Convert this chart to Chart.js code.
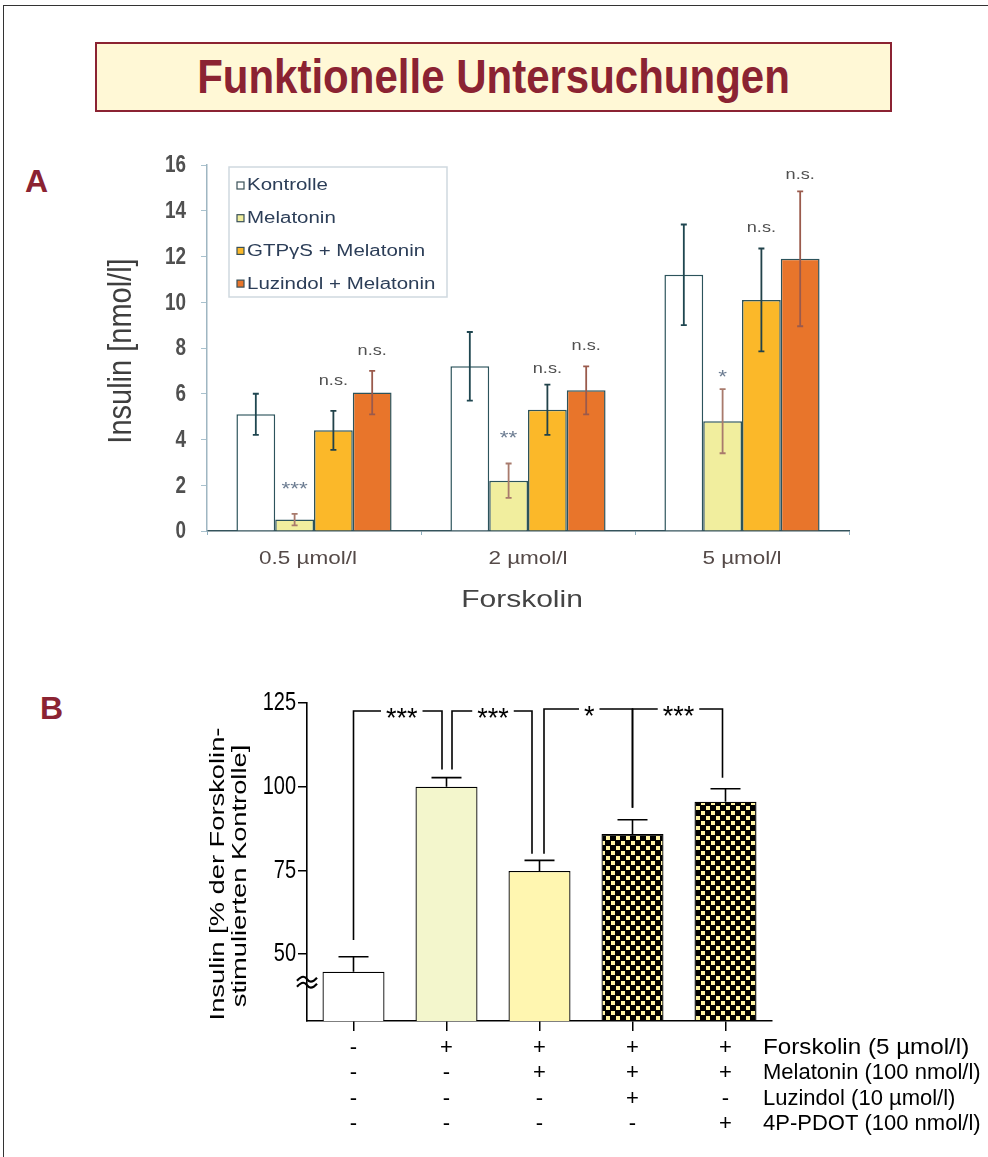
<!DOCTYPE html>
<html>
<head>
<meta charset="utf-8">
<script src="https://cdn.jsdelivr.net/npm/chart.js@4.4.1/dist/chart.umd.min.js"></script>
<style>
  html, body { margin: 0; padding: 0; background: #fff; }
  body { width: 988px; height: 1157px; position: relative; overflow: hidden; font-family: "Liberation Sans", Arial, sans-serif; }
  #frame { position: absolute; left: 3px; top: 5px; width: 1000px; height: 1200px; border-top: 1px solid #333; border-left: 1px solid #333; }
  #title { position: absolute; left: 95px; top: 42px; width: 793px; height: 66px; border: 2.5px solid #8b2332; background: #fff8d6;
           display: flex; align-items: center; justify-content: center; }
  #title span { font: bold 42px "Liberation Sans", Arial, sans-serif; color: #8b2332; white-space: nowrap;
                display: inline-block; transform: scale(1, 1.15); }
  .plabel { position: absolute; font: bold 32px/32px "Liberation Sans", Arial, sans-serif; color: #8b2332; }
  .wrap { position: absolute; left: 0; }
  #wrapA { top: 140px; width: 988px; height: 500px; }
  #wrapB { top: 640px; width: 988px; height: 517px; }
</style>
</head>
<body>
<div id="frame"></div>
<div id="title"><span>Funktionelle Untersuchungen</span></div>
<div class="plabel" style="left:25px;top:165px;">A</div>
<div class="plabel" style="left:40px;top:692px;">B</div>
<div class="wrap" id="wrapA"><canvas id="chartA" width="988" height="500"></canvas></div>
<div class="wrap" id="wrapB"><canvas id="chartB" width="988" height="517"></canvas></div>

<script>
// ---------- Panel A: insulin secretion at three forskolin concentrations ----------
const forskolinLevels = ['0.5 µmol/l', '2 µmol/l', '5 µmol/l'];
const seriesNamesA = ['Kontrolle', 'Melatonin', 'GTPγS + Melatonin', 'Luzindol + Melatonin'];

const kontrolle      = [5.1, 7.2, 11.2];
const kontrolleErr   = [0.9, 1.5, 2.2];
const melatonin      = [0.5, 2.2, 4.8];
const melatoninErr   = [0.25, 0.75, 1.4];
const gtpMelatonin    = [4.4, 5.3, 10.1];
const gtpMelatoninErr = [0.85, 1.1, 2.25];
const luzMelatonin    = [6.05, 6.15, 11.9];
const luzMelatoninErr = [0.95, 1.05, 2.95];

// significance marks (text and the level they are written at, in nmol/l)
const sigMelatonin   = ['***', '**', '*'];
const sigMelatoninAt = [1.8, 4.0, 6.7];
const sigGtp         = ['n.s.', 'n.s.', 'n.s.'];
const sigGtpAt       = [6.55, 7.1, 13.25];
const sigLuz         = ['n.s.', 'n.s.', 'n.s.'];
const sigLuzAt       = [7.85, 8.1, 15.55];

const yTicksA = [0, 2, 4, 6, 8, 10, 12, 14, 16];

// ---------- Panel B: percent of forskolin-stimulated control ----------
const groupsB   = ['G1', 'G2', 'G3', 'G4', 'G5'];
const insulinB  = [44.7, 100, 74.8, 85.9, 95.5];
const insulinBErr = [4.5, 2.7, 3.2, 4.2, 3.9];
const yTicksB   = [50, 75, 100, 125];

const treatmentNames = ['Forskolin (5 µmol/l)', 'Melatonin (100 nmol/l)', 'Luzindol (10 µmol/l)', '4P-PDOT (100 nmol/l)'];
const rowForskolin = ['-', '+', '+', '+', '+'];
const rowMelatonin = ['-', '-', '+', '+', '+'];
const rowLuzindol  = ['-', '-', '-', '+', '-'];
const rowPdot      = ['-', '-', '-', '-', '+'];

// comparison brackets: pairs of groups, star label, leg end levels (%)
const bracketFrom  = [0, 1, 2, 3];
const bracketTo    = [1, 2, 3, 4];
const bracketStars = ['***', '***', '*', '***'];
const bracketLegFrom = [54.2, 105.1, 80, 93.7];
const bracketLegTo   = [105.1, 80, 93.7, 102.7];
const bracketTopLevel = 122.6;

// ---------- helpers ----------
function stretchText(ctx, txt, x, y, font, color, align, sx, sy, rot) {
  ctx.save();
  ctx.font = font;
  ctx.fillStyle = color;
  ctx.textAlign = align;
  ctx.textBaseline = 'middle';
  ctx.translate(x, y);
  if (rot) ctx.rotate(rot);
  ctx.scale(sx || 1, sy || 1);
  ctx.fillText(txt, 0, 0);
  ctx.restore();
}

function checkerPattern() {
  const c = document.createElement('canvas');
  c.width = 10; c.height = 10;
  const g = c.getContext('2d');
  g.fillStyle = '#000';
  g.fillRect(0, 0, 10, 10);
  g.fillStyle = '#fff3a3';
  g.fillRect(1, 1, 4, 4);
  g.fillRect(6, 6, 4, 4);
  return g.createPattern(c, 'repeat');
}

// vertical error bars with caps, drawn over the bars
const errorBarsPlugin = {
  id: 'errorBars',
  afterDatasetsDraw(chart) {
    const ctx = chart.ctx, ys = chart.scales.y;
    chart.data.datasets.forEach((ds, i) => {
      if (!ds.err) return;
      const meta = chart.getDatasetMeta(i);
      ctx.save();
      ctx.lineWidth = ds.errWidth || 1.5;
      meta.data.forEach((el, j) => {
        const v = ds.data[j], e = ds.err[j];
        ctx.strokeStyle = ds.errColor;
        const yt = ys.getPixelForValue(v + e);
        const yb = ds.errUpOnly ? ys.getPixelForValue(v) : ys.getPixelForValue(v - e);
        const cap = ds.errCap || 3;
        ctx.beginPath();
        ctx.moveTo(el.x, yt); ctx.lineTo(el.x, yb);
        ctx.moveTo(el.x - cap, yt); ctx.lineTo(el.x + cap, yt);
        if (!ds.errUpOnly) { ctx.moveTo(el.x - cap, yb); ctx.lineTo(el.x + cap, yb); }
        ctx.stroke();
      });
      ctx.restore();
    });
  }
};

// ---------- Chart A ----------
const colorsA = ['#ffffff', '#f1ee9e', '#fbb829', '#e8752b'];
const errColorsA = ['#1f4650', '#a87a6c', '#21424a', '#9a5a4c'];
const valuesA = [kontrolle, melatonin, gtpMelatonin, luzMelatonin];
const errsA = [kontrolleErr, melatoninErr, gtpMelatoninErr, luzMelatoninErr];

const panelAExtras = {
  id: 'panelAExtras',
  afterDraw(chart) {
    const ctx = chart.ctx, ca = chart.chartArea, xs = chart.scales.x, ys = chart.scales.y;
    const SX = 1.25;
    const font = '"Liberation Sans", Arial, sans-serif';

    // y tick labels
    yTicksA.forEach(v => {
      stretchText(ctx, String(v), ca.left - 21, ys.getPixelForValue(v) + 1, 'bold 18px ' + font, '#505050', 'right', 1.05, 1.3);
    });

    // x category labels
    forskolinLevels.forEach((lab, i) => {
      stretchText(ctx, lab, xs.getPixelForValue(i) - (i === 0 ? 6 : 0), ca.bottom + 28, '18px ' + font, '#554a48', 'center', SX);
    });
    // axis titles
    stretchText(ctx, 'Forskolin', ca.left + 315, ca.bottom + 69, '24px ' + font, '#444', 'center', SX);
    stretchText(ctx, 'Insulin [nmol/l]', 122, (ca.top + ca.bottom) / 2 + 3, '29px ' + font, '#3e3e3e', 'center', 1, 1.15, -Math.PI / 2);

    // significance marks
    const sigSets = [[1, sigMelatonin, sigMelatoninAt, '#6d7d92', '18px'], [2, sigGtp, sigGtpAt, '#505050', '14.5px'], [3, sigLuz, sigLuzAt, '#505050', '14.5px']];
    sigSets.forEach(([di, labs, at, col, fs]) => {
      const meta = chart.getDatasetMeta(di);
      labs.forEach((t, j) => {
        stretchText(ctx, t, meta.data[j].x, ys.getPixelForValue(at[j]), fs + ' ' + font, col, 'center', SX);
      });
    });

    // legend box
    const lx = ca.left + 22, ly = ca.top + 2, lw = 218, lh = 130;
    ctx.save();
    ctx.fillStyle = '#ffffff';
    ctx.strokeStyle = '#cfd9df';
    ctx.lineWidth = 1.5;
    ctx.fillRect(lx, ly, lw, lh);
    ctx.strokeRect(lx, ly, lw, lh);
    seriesNamesA.forEach((name, i) => {
      const cy = ly + 19 + i * 32.7;
      ctx.fillStyle = colorsA[i];
      ctx.strokeStyle = '#3a5058';
      ctx.lineWidth = 1.2;
      ctx.fillRect(lx + 8, cy - 4, 7, 7);
      ctx.strokeRect(lx + 8, cy - 4, 7, 7);
      stretchText(ctx, name, lx + 18, cy, '16px ' + font, '#2c3e58', 'left', 1.28);
    });
    ctx.restore();
  }
};

new Chart(document.getElementById('chartA'), {
  type: 'bar',
  data: {
    labels: forskolinLevels,
    datasets: seriesNamesA.map((name, i) => ({
      label: name,
      data: valuesA[i],
      err: errsA[i],
      errColor: errColorsA[i],
      errWidth: 1.8,
      errCap: 3,
      backgroundColor: colorsA[i],
      borderColor: '#2c535b',
      borderWidth: 1.5,
      categoryPercentage: 0.725,
      barPercentage: 1.0
    }))
  },
  options: {
    responsive: false,
    animation: false,
    layout: { padding: { top: 25, right: 139, left: 0, bottom: 0 } },
    plugins: { legend: { display: false }, tooltip: { enabled: false } },
    scales: {
      x: {
        grid: { drawOnChartArea: false, drawTicks: true, tickLength: 4, color: '#8fb0c0', offset: true },
        border: { color: '#34535c', width: 1.6 },
        ticks: { display: false },
        afterFit(s) { s.height = 109; }
      },
      y: {
        min: 0, max: 16,
        afterBuildTicks(s) { s.ticks = yTicksA.map(v => ({ value: v })); },
        grid: { drawOnChartArea: false, drawTicks: true, tickLength: 6, color: '#a9c2ce' },
        border: { color: '#9fb6c2', width: 1.5 },
        ticks: { display: false },
        afterFit(s) { s.width = 207; }
      }
    }
  },
  plugins: [errorBarsPlugin, panelAExtras]
});

// ---------- Chart B ----------
const pattern = checkerPattern();
const fillsB = ['#ffffff', '#f3f6cc', '#fff6b0', pattern, pattern];
const treatmentRows = [rowForskolin, rowMelatonin, rowLuzindol, rowPdot];

const panelBExtras = {
  id: 'panelBExtras',
  afterDraw(chart) {
    const ctx = chart.ctx, ca = chart.chartArea, xs = chart.scales.x, ys = chart.scales.y;
    const font = '"Liberation Sans", Arial, sans-serif';

    // y tick labels
    yTicksB.forEach(v => {
      stretchText(ctx, String(v), ca.left - 11, ys.getPixelForValue(v), '20px ' + font, '#000', 'right', 1, 1.3);
    });

    // axis break mark on the y axis
    ctx.save();
    ctx.strokeStyle = '#000';
    ctx.lineWidth = 2.2;
    const bx = ca.left, byc = ys.getPixelForValue(41.6);
    [-3, 3].forEach(dy => {
      const yy = byc + dy;
      ctx.beginPath();
      ctx.moveTo(bx - 10, yy + 1.5);
      ctx.bezierCurveTo(bx - 5, yy - 4, bx - 2, yy - 3, bx, yy);
      ctx.bezierCurveTo(bx + 2, yy + 3, bx + 5, yy + 4, bx + 10, yy - 1.5);
      ctx.stroke();
    });
    ctx.restore();

    // y title, two rotated lines
    stretchText(ctx, 'Insulin [% der Forskolin-', 218, 234, '21px ' + font, '#000', 'center', 1.3, 1, -Math.PI / 2);
    stretchText(ctx, 'stimulierten Kontrolle]', 240, 236, '21px ' + font, '#000', 'center', 1.3, 1, -Math.PI / 2);

    // treatment table under the axis
    treatmentRows.forEach((row, r) => {
      const yy = ca.bottom + 27 + r * 25.3;
      row.forEach((m, i) => {
        stretchText(ctx, m, xs.getPixelForValue(i), yy, '22px ' + font, '#000', 'center', 1);
      });
      stretchText(ctx, treatmentNames[r], 763, yy, '22px ' + font, '#000', 'left', r === 0 ? 1.1 : 1);
    });

    // comparison brackets with stars
    ctx.save();
    ctx.strokeStyle = '#000';
    ctx.lineWidth = 1.6;
    ctx.font = '27px ' + font;
    const legOffFrom = [0, 5.5, 4.5, 0];
    const legOffTo = [-4.5, -7.5, 0, -3];
    const topY = ys.getPixelForValue(bracketTopLevel);
    bracketFrom.forEach((f, k) => {
      const x1 = xs.getPixelForValue(f) + legOffFrom[k];
      const x2 = xs.getPixelForValue(bracketTo[k]) + legOffTo[k];
      const ty = topY + (k >= 2 ? -2 : 0);
      const y1 = ys.getPixelForValue(bracketLegFrom[k]);
      const y2 = ys.getPixelForValue(bracketLegTo[k]);
      const tw = ctx.measureText(bracketStars[k]).width;
      const mid = (x1 + x2) / 2 + (k === 0 ? 4 : 1);
      ctx.beginPath();
      ctx.moveTo(x1, y1); ctx.lineTo(x1, ty); ctx.lineTo(mid - tw / 2 - 5, ty);
      ctx.moveTo(mid + tw / 2 + 5, ty); ctx.lineTo(x2, ty); ctx.lineTo(x2, y2);
      ctx.stroke();
      ctx.fillStyle = '#000';
      ctx.textAlign = 'center';
      ctx.textBaseline = 'alphabetic';
      ctx.fillText(bracketStars[k], mid, ty + 16);
    });
    ctx.restore();
  }
};

new Chart(document.getElementById('chartB'), {
  type: 'bar',
  data: {
    labels: groupsB,
    datasets: [{
      data: insulinB,
      err: insulinBErr,
      errColor: '#000',
      errWidth: 1.6,
      errCap: 15,
      errUpOnly: true,
      backgroundColor: fillsB,
      borderColor: '#000',
      borderWidth: 1.3,
      categoryPercentage: 0.667,
      barPercentage: 1.0,
      base: 30
    }]
  },
  options: {
    responsive: false,
    animation: false,
    layout: { padding: { top: 63, right: 216, left: 0, bottom: 0 } },
    plugins: { legend: { display: false }, tooltip: { enabled: false } },
    scales: {
      x: {
        grid: { drawOnChartArea: false, drawTicks: true, tickLength: 10, color: '#000', lineWidth: 1.5, offset: false },
        border: { color: '#000', width: 1.6 },
        ticks: { display: false },
        afterFit(s) { s.height = 136; }
      },
      y: {
        min: 30, max: 125,
        afterBuildTicks(s) { s.ticks = yTicksB.map(v => ({ value: v })); },
        grid: { drawOnChartArea: false, drawTicks: true, tickLength: 9, color: '#000', lineWidth: 1.5 },
        border: { color: '#000', width: 1.6 },
        ticks: { display: false },
        afterFit(s) { s.width = 307; }
      }
    }
  },
  plugins: [errorBarsPlugin, panelBExtras]
});
</script>
</body>
</html>
